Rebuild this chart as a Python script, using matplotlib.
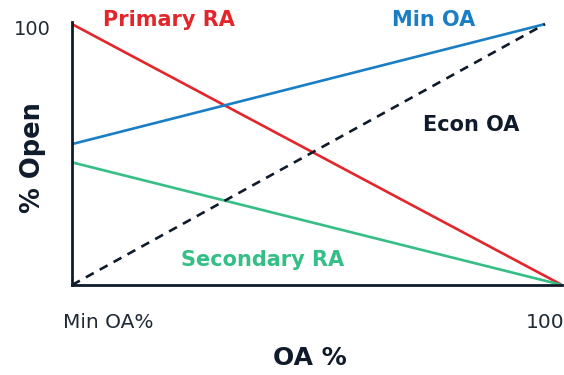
import matplotlib
matplotlib.use("Agg")
import matplotlib.pyplot as plt
import matplotlib.transforms as mtransforms

# endpoints of each trade-off line (x = OA %, y = % open)
primary_x = [0, 103.6]
primary_y = [100, 0]
min_oa_x = [0, 100]
min_oa_y = [54, 100]
secondary_x = [0, 103.6]
secondary_y = [47, 0]
econ_x = [0, 100]
econ_y = [0, 100]

x_ticks = [0, 100]
x_ticklabels = ["Min OA%", "100"]
y_ticks = [100]
y_ticklabels = ["100"]

RED = "#e3262b"
BLUE = "#1a7ec4"
GREEN = "#33bf85"
NAVY = "#0f1b2b"

plt.rcParams["font.family"] = ["DejaVu Sans"]

fig = plt.figure(figsize=(5.64, 3.75), dpi=100)
ax = fig.add_axes([72 / 564, 90 / 375, 490 / 564, 263 / 375])

lw = 1.9
ax.plot(primary_x, primary_y, color=RED, lw=lw, solid_capstyle="butt")
ax.plot(min_oa_x, min_oa_y, color=BLUE, lw=lw, solid_capstyle="butt")
ax.plot(secondary_x, secondary_y, color=GREEN, lw=lw, solid_capstyle="butt")
ax.plot(econ_x, econ_y, color=NAVY, lw=1.9, ls=(0, (3.4, 2.6)))

ax.set_xlim(0, 103.6)
ax.set_ylim(0, 100.8)

for side in ["top", "right"]:
    ax.spines[side].set_visible(False)
for side in ["left", "bottom"]:
    ax.spines[side].set_color(NAVY)
    ax.spines[side].set_linewidth(2)

ax.set_xticks(x_ticks)
ax.set_xticklabels(x_ticklabels, fontsize=14.5, color="#1f2a36")
ax.set_yticks(y_ticks)
ax.set_yticklabels(y_ticklabels, fontsize=14, color="#1f2a36")
ax.tick_params(axis="x", length=0, pad=20)
ax.tick_params(axis="y", length=0, pad=20)

# first x label starts a little left of the origin instead of centring on it
first = ax.get_xticklabels()[0]
first.set_horizontalalignment("left")
first.set_transform(first.get_transform() + mtransforms.ScaledTranslation(-9 / 100, 0, fig.dpi_scale_trans))
ylab = ax.get_yticklabels()[0]
ylab.set_horizontalalignment("center")
ylab.set_transform(ylab.get_transform() + mtransforms.ScaledTranslation(-12 / 100, -3 / 100, fig.dpi_scale_trans))

fig.text(310 / 564, 1 - 358 / 375, "OA %", fontsize=18, fontweight="bold", color=NAVY,
         ha="center", va="center")
fig.text(33 / 564, 1 - 158 / 375, "% Open", fontsize=18.5, fontweight="bold", color=NAVY,
         ha="center", va="center", rotation=90)

lbl = dict(fontsize=15, fontweight="bold", ha="center", va="center")
ax.text(20.5, 101.5, "Primary RA", color=RED, **lbl)
ax.text(76.5, 101.5, "Min OA", color=BLUE, **lbl)
ax.text(84.5, 61.5, "Econ OA", color=NAVY, **lbl)
ax.text(40.2, 9.5, "Secondary RA", color=GREEN, **lbl)

fig.savefig("out.png", dpi=100)
